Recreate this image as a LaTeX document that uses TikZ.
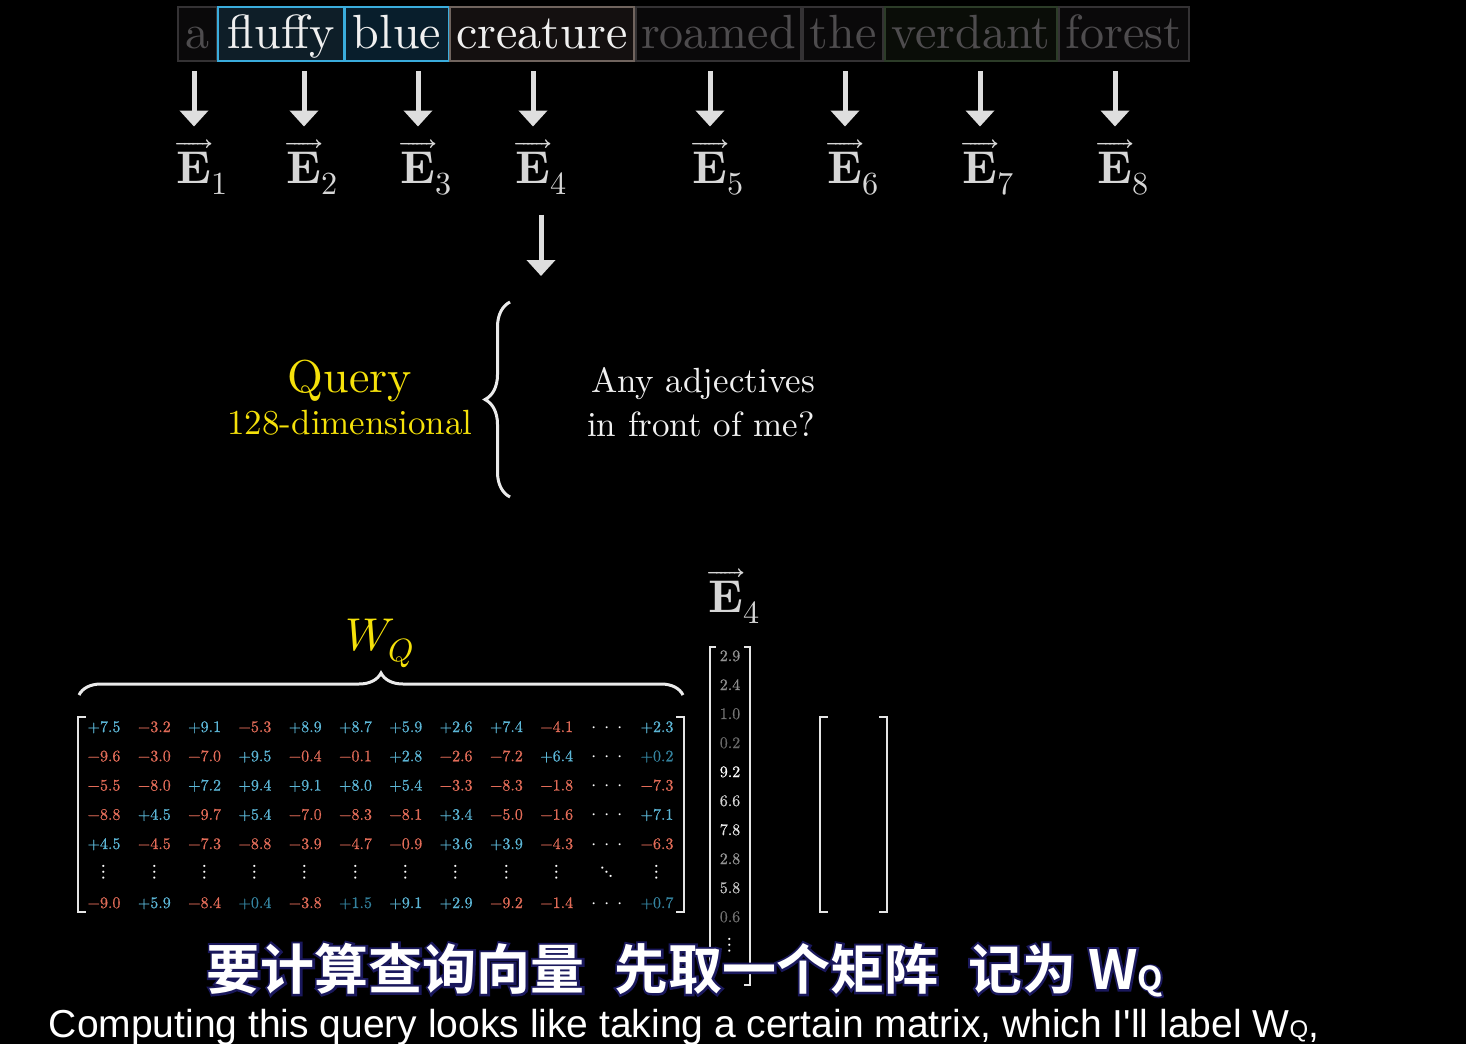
\documentclass[tikz,border=0pt]{standalone}
\usepackage{fontspec}
\usepackage{mathtools}
\usepackage{unicode-math}
\setmainfont{lmroman10-regular.otf}[BoldFont=lmroman10-bold.otf, ItalicFont=lmroman10-italic.otf]
\setmathfont{Latin Modern Math}
\usetikzlibrary{arrows.meta, positioning, calc, decorations.pathreplacing}
\newfontfamily\numfont{lmroman10-regular.otf}[FakeBold=0.6]
\newfontfamily\cjkfont{Noto Sans CJK SC}[UprightFont={* Bold}]
\newfontfamily\cjkshade{Noto Sans CJK SC}[UprightFont={* Bold}, FakeBold=8]
\newfontfamily\capfont{Liberation Sans}
\def\unsign-#1\relax{#1}
\definecolor{tokBlue}{RGB}{58, 172, 220}
\definecolor{tokBrown}{RGB}{112, 100, 94}
\definecolor{tokGray}{RGB}{52, 50, 52}
\definecolor{tokGreen}{RGB}{44, 60, 40}
\definecolor{fillFluffy}{RGB}{14, 30, 40}
\definecolor{fillBlue}{RGB}{8, 30, 44}
\definecolor{fillCreature}{RGB}{20, 16, 16}
\definecolor{fillDark}{RGB}{10, 9, 10}
\definecolor{fillGreen}{RGB}{10, 13, 8}
\definecolor{dimText}{RGB}{78, 76, 78}
\definecolor{arrowGray}{RGB}{222, 222, 222}
\definecolor{vecGray}{RGB}{214, 214, 214}
\definecolor{qYellow}{RGB}{245, 225, 10}
\definecolor{numBlue}{RGB}{92, 182, 214}
\definecolor{numDim}{RGB}{52, 130, 158}
\definecolor{numRed}{RGB}{226, 108, 88}
\definecolor{subNavy}{RGB}{26, 24, 92}

\begin{document}
\begin{tikzpicture}[x=1pt, y=-1pt,
    word/.style={draw, line width=2pt, anchor=base, inner xsep=0pt, inner ysep=9pt,
      text height=32pt, text depth=4pt, font=\fontsize{48}{52}\selectfont},
    evec/.style={anchor=base, inner sep=0pt, text=vecGray, font=\fontsize{46}{50}\selectfont},
    feed/.style={line width=5pt, draw=arrowGray, -{Triangle[width=28pt, length=16pt]}},
    curly/.style={decorate, line width=3pt, draw=white!92!black},
    bracket/.style={line width=2.5pt, draw=white!90!black},
    entry/.style={anchor=base, inner sep=0pt, text=white, font=\numfont\fontsize{16}{18}\selectfont},
    dots/.style={inner sep=0pt, text=white, font=\fontsize{21}{22}\selectfont}]
  \fill[black] (0,0) rectangle (1466,1044);
  \useasboundingbox (0,0) rectangle (1466,1044);

  % tokens
  \foreach \txt/\cx/\bw/\bd/\bgc/\fgc [count=\i] in {
      a/197.5/39/tokGray/fillDark/dimText,
      fluffy/281/126/tokBlue/fillFluffy/white!94!black,
      blue/397/104/tokBlue/fillBlue/white!94!black,
      creature/542/184/tokBrown/fillCreature/white!94!black,
      roamed/718.5/165/tokGray/fillDark/dimText,
      the/843/80/tokGray/fillDark/dimText,
      verdant/971/172/tokGreen/fillGreen/dimText,
      forest/1124/130/tokGray/fillDark/dimText}
    \node[word, minimum width=\bw pt, draw=\bd, fill=\bgc, text=\fgc] (w\i) at (\cx,48) {\txt};

  % embeddings
  \foreach \x [count=\i] in {194,304,418,533,710,845,980,1115} {
    \node[evec] (e\i) at (\x,183) {$\overrightarrow{\mathbf{E}}\mathrlap{_{\i}}$};
    \draw[feed] ($(w\i.south -| e\i.north)+(0,9)$) -- ($(e\i.north)+(0,-13)$);
  }
  \coordinate (qarrow) at (541,276);
  \draw[feed] ($(e4.south)+(8,20)$) -- (qarrow);

  % query
  \draw[curly, decoration={brace, amplitude=25pt}] (510,497) -- (510,302);
  \node[anchor=base, text=qYellow, font=\fontsize{46}{50}\selectfont] (query) at (350,392) {Query};
  \node[anchor=base, text=qYellow, font=\fontsize{35}{40}\selectfont] (qdim) at (350,434) {128-dimensional};
  \node[anchor=base, text=white!94!black, font=\fontsize{35}{40}\selectfont] (ask1) at (703,392) {Any adjectives};
  \node[anchor=base, text=white!94!black, font=\fontsize{35}{40}\selectfont] (ask2) at (701,436) {in front of me?};

  % W_Q
  \node[anchor=base, text=qYellow, font=\fontsize{46}{50}\selectfont] (wq) at (380,650) {$W_Q$};
  \draw[curly, decoration={brace, amplitude=22pt}] (79,695) -- (683,695);
  \draw[bracket] (86,717) -- (78,717) -- (78,912) -- (86,912);
  \draw[bracket] (676,717) -- (684,717) -- (684,912) -- (676,912);
  \foreach \vals [count=\r] in {
      {7.5,-3.2,9.1,-5.3,8.9,8.7,5.9,2.6,7.4,-4.1,2.3},
      {-9.6,-3.0,-7.0,9.5,-0.4,-0.1,2.8,-2.6,-7.2,6.4,0.2},
      {-5.5,-8.0,7.2,9.4,9.1,8.0,5.4,-3.3,-8.3,-1.8,-7.3},
      {-8.8,4.5,-9.7,5.4,-7.0,-8.3,-8.1,3.4,-5.0,-1.6,7.1},
      {4.5,-4.5,-7.3,-8.8,-3.9,-4.7,-0.9,3.6,3.9,-4.3,-6.3},
      {-9.0,5.9,-8.4,0.4,-3.8,1.5,9.1,2.9,-9.2,-1.4,0.7}} {
    \pgfmathsetmacro\rowy{\r<6 ? 732+29.25*(\r-1) : 908}
    \foreach \v [count=\c] in \vals {
      \pgfmathsetmacro\colx{\c<11 ? 104+50.3*(\c-1) : 657}
      \ifdim\v pt<0pt \def\tone{numRed}\else\ifdim\v pt<2pt \def\tone{numDim}\else\def\tone{numBlue}\fi\fi
      \node[entry, text=\tone] (m-\r-\c) at (\colx,\rowy)
        {\ifdim\v pt<0pt −\expandafter\unsign\v\relax\else +\v\fi};
    }
    \node[dots, anchor=base, font=\fontsize{19}{20}\selectfont] (h-\r) at (607,\rowy)
      {$\cdotp\mkern3mu\cdotp\mkern3mu\cdotp$};
  }
  \foreach \c in {1,...,10}
    \node[dots] (v-\c) at ({104+50.3*(\c-1)},872) {$\vdots$};
  \node[dots] (v-11) at (607,872) {$\ddots$};
  \node[dots] (v-12) at (657,872) {$\vdots$};

  % E_4 column
  \node[evec] (ecol) at (726,612) {$\overrightarrow{\mathbf{E}}\mathrlap{_{4}}$};
  \draw[bracket] (716,647) -- (710,647) -- (710,985) -- (716,985);
  \draw[bracket] (744,647) -- (750,647) -- (750,985) -- (744,985);
  \foreach \v [count=\k] in {2.9,2.4,1.0,0.2,9.2,6.6,7.8,2.8,5.8,0.6} {
    \pgfmathtruncatemacro\g{40+6.5*\v}
    \node[entry, text=white!\g!black] (c-\k) at (730,{661+29*(\k-1)}) {\v};
  }
  \node[dots] (c-dots) at (730,945) {$\vdots$};

  % result
  \draw[bracket] (828,717) -- (820,717) -- (820,912) -- (828,912);
  \draw[bracket] (879,717) -- (887,717) -- (887,912) -- (879,912);

  % subtitles
  \node[text=subNavy, font=\cjkshade\fontsize{54}{58}\selectfont] (zhshade) at (685,970)
    {要计算查询向量\hspace{0.55em}先取一个矩阵\hspace{0.55em}记为 W\raisebox{-1pt}{\fontsize{33}{33}\selectfont Q}};
  \node[text=white, font=\cjkfont\fontsize{54}{58}\selectfont] (zh) at (zhshade)
    {要计算查询向量\hspace{0.55em}先取一个矩阵\hspace{0.55em}记为 W\raisebox{-1pt}{\fontsize{33}{33}\selectfont Q}};
  \node[anchor=base, text=white, font=\capfont\fontsize{39}{40}\selectfont] (en) at (684,1037)
    {Computing this query looks like taking a certain matrix, which I'll label W{\fontsize{24}{24}\selectfont Q},};
\end{tikzpicture}
\end{document}
